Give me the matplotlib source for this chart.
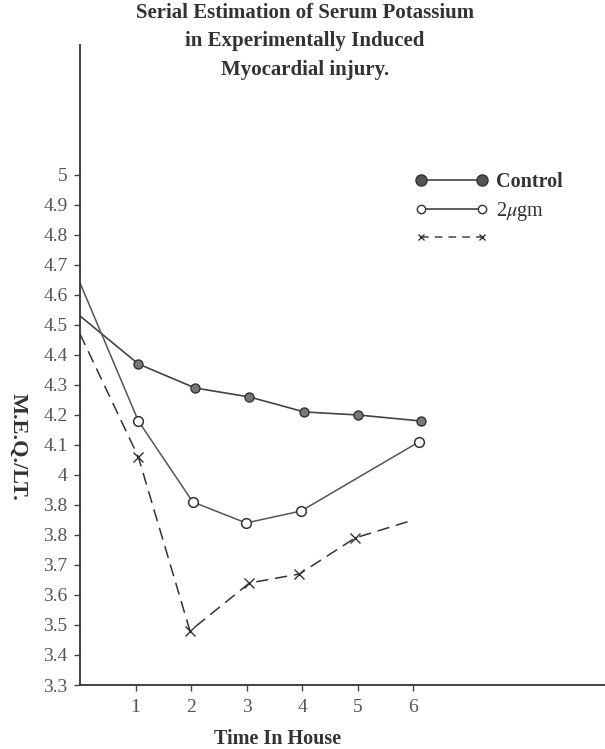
import matplotlib
matplotlib.use("Agg")
import matplotlib.pyplot as plt
from matplotlib.lines import Line2D

# ---- data ----
control_x = [0, 1.05, 2.07, 3.05, 4.04, 5.0, 6.13]
control_y = [4.53, 4.37, 4.29, 4.26, 4.21, 4.20, 4.18]

ugm_x = [0, 1.05, 2.03, 2.99, 3.98, 6.1]
ugm_y = [4.64, 4.18, 3.91, 3.84, 3.88, 4.11]

cross_x = [0, 1.05, 1.98, 3.05, 3.95, 4.95, 6.0]
cross_y = [4.47, 4.06, 3.48, 3.64, 3.67, 3.79, 3.85]
cross_marked = [False, True, True, True, True, True, False]

ytick_vals = [3.3, 3.4, 3.5, 3.6, 3.7, 3.8, 3.9, 4.0, 4.1, 4.2, 4.3, 4.4,
              4.5, 4.6, 4.7, 4.8, 4.9, 5.0]
ytick_labels = ["3.3", "3.4", "3.5", "3.6", "3.7", "3.8", "3.8", "4", "4.1",
                "4.2", "4.3", "4.4", "4.5", "4.6", "4.7", "4.8", "4.9", "5"]
xtick_vals = [1, 2, 3, 4, 5, 6]
xtick_labels = ["1", "2", "3", "4", "5", "6"]

title = "Serial Estimation of Serum Potassium\nin Experimentally Induced\nMyocardial injury."
xlabel = "Time In House"
ylabel = "M.E.Q./LT."
legend_labels = ["Control", "2$\\mu$gm", " "]

serif = ["Liberation Serif", "DejaVu Serif"]
plt.rcParams["font.family"] = serif
plt.rcParams["mathtext.fontset"] = "stix"

fig = plt.figure(figsize=(6.05, 7.49), dpi=100)
ax = fig.add_axes([80 / 605, 64 / 749, 1 - 80 / 605, (749 - 45 - 64) / 749])

ax.set_xlim(0, 9.45)
ax.set_ylim(3.3, 5.433)

# Control
ax.plot(control_x, control_y, color="#444444", lw=1.2, zorder=2)
ax.plot(control_x[1:], control_y[1:], ls="none", marker="o", ms=6.5,
        mfc="#777777", mec="#333333", mew=1.0, zorder=3)
# 2 ugm
ax.plot(ugm_x, ugm_y, color="#555555", lw=1.1, zorder=2)
ax.plot(ugm_x[1:], ugm_y[1:], ls="none", marker="o", ms=7,
        mfc="white", mec="#333333", mew=1.1, zorder=3)
# crosses
ax.plot(cross_x, cross_y, color="#333333", lw=1.1, ls=(0, (8, 4.5)), zorder=2)
mx = [x for x, m in zip(cross_x, cross_marked) if m]
my = [y for y, m in zip(cross_y, cross_marked) if m]
ax.plot(mx, my, ls="none", marker="x", ms=7, mec="#333333", mew=1.0, zorder=3)

# axes styling
for s in ["top", "right"]:
    ax.spines[s].set_visible(False)
ax.spines["left"].set_color("#333333")
ax.spines["bottom"].set_color("#333333")
ax.spines["left"].set_linewidth(1.3)
ax.spines["bottom"].set_linewidth(1.3)

ax.set_yticks(ytick_vals)
ax.set_yticklabels(ytick_labels)
ax.set_xticks(xtick_vals)
ax.set_xticklabels(xtick_labels)
ax.tick_params(axis="both", direction="out", length=4, width=1.0,
               colors="#444444", labelsize=14, labelcolor="#555555")
ax.tick_params(axis="y", pad=5)
ax.tick_params(axis="x", pad=6)

ax.set_xlabel(xlabel, fontsize=14.5, fontweight="bold", color="#333333")
ax.xaxis.set_label_coords((278 - 80) / 525, -0.068)

fig.text(18 / 605, 1 - 447 / 749, ylabel, rotation=-90, fontsize=16,
         fontweight="bold", color="#333333", ha="center", va="center")

fig.text(305 / 605, 1 - 3 / 749, title, ha="center", va="top", fontsize=15,
         fontweight="bold", color="#333333", linespacing=1.55)

# legend
h1 = Line2D([], [], color="#444444", lw=1.2, marker="o", ms=8,
            mfc="#555555", mec="#333333")
h2 = Line2D([], [], color="#444444", lw=1.2, marker="o", ms=6,
            mfc="white", mec="#333333")
h3 = Line2D([], [], color="#444444", lw=1.1, ls=(0, (5, 4)), marker="x",
            ms=5, mec="#333333")
leg = ax.legend([h1, h2, h3], legend_labels, numpoints=2, frameon=False,
                loc="upper left", bbox_to_anchor=((397 - 80) / 525, (749 - 64 - 154) / 640),
                bbox_transform=ax.transAxes, handlelength=3.6, handletextpad=0.4,
                labelspacing=0.38, fontsize=14.5)
for t, w in zip(leg.get_texts(), ["bold", "normal", "normal"]):
    t.set_fontweight(w)
    t.set_color("#333333")

fig.savefig("out.png", dpi=100)
